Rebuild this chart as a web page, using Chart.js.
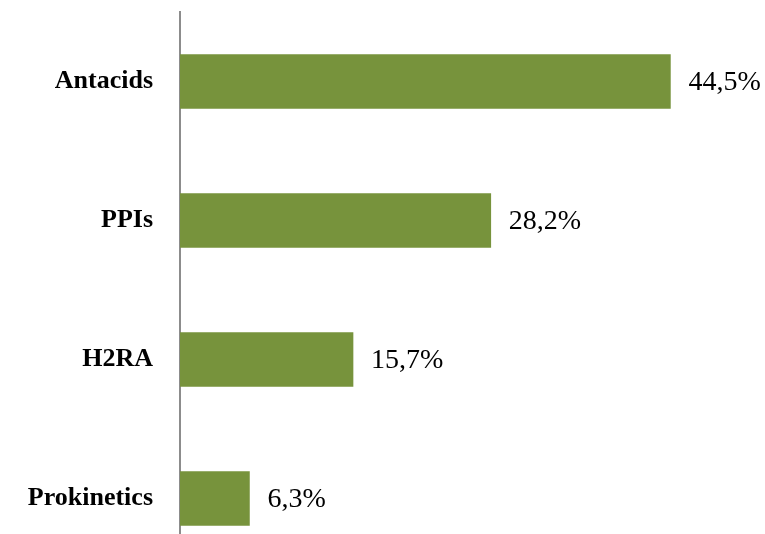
<!DOCTYPE html>
<html>
<head>
<meta charset="utf-8">
<script src="https://cdn.jsdelivr.net/npm/chart.js@4"></script>
<style>
  html, body { margin: 0; padding: 0; background: #fff; overflow: hidden; }
</style>
</head>
<body>
<canvas id="chart" width="765" height="568"></canvas>
<script>
// categories and their shares (percent)
const categories = ['Antacids', 'PPIs', 'H2RA', 'Prokinetics'];
const shares = [44.5, 28.2, 15.7, 6.3];

// draws the value text to the right of each bar
const valueLabels = {
  id: 'valueLabels',
  afterDatasetsDraw(chart) {
    const ctx = chart.ctx;
    const meta = chart.getDatasetMeta(0);
    ctx.save();
    ctx.font = '28px "Liberation Serif", "Times New Roman", serif';
    ctx.fillStyle = '#000';
    ctx.textAlign = 'left';
    ctx.textBaseline = 'middle';
    meta.data.forEach((bar, i) => {
      ctx.fillText(shares[i].toFixed(1).replace('.', ',') + '%', bar.x + 18, bar.y + 1);
    });
    ctx.restore();
  }
};

new Chart(document.getElementById('chart'), {
  type: 'bar',
  data: {
    labels: categories,
    datasets: [{
      data: shares,
      backgroundColor: '#77933c',
      barThickness: 54
    }]
  },
  options: {
    indexAxis: 'y',
    responsive: false,
    animation: false,
    layout: { padding: { top: 12, right: 34 } },
    plugins: { legend: { display: false }, tooltip: { enabled: false } },
    scales: {
      x: { display: false, min: 0, max: 50 },
      y: {
        grid: { display: false, drawTicks: false },
        border: { display: true, color: '#8c8c8c', width: 2 },
        afterFit: (s) => { s.width = 180; s.paddingTop = 0; s.paddingBottom = 0; },
        ticks: {
          padding: 27,
          color: '#000',
          font: { family: '"Liberation Serif", "Times New Roman", serif', size: 26, weight: 'bold' }
        }
      }
    }
  },
  plugins: [valueLabels]
});
</script>
</body>
</html>
